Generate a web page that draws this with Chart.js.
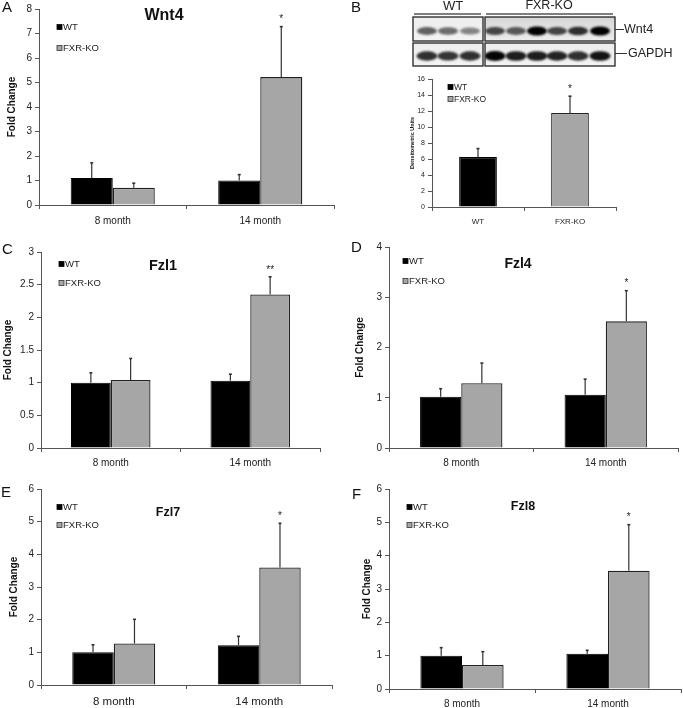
<!DOCTYPE html>
<html>
<head>
<meta charset="utf-8">
<script src="https://cdn.jsdelivr.net/npm/chart.js@4.4.1/dist/chart.umd.min.js"></script>
<style>
  body { margin: 0; background: #fff; width: 683px; height: 708px; position: relative; overflow: hidden; }
  canvas { position: absolute; }
</style>
</head>
<body>
<script>
// ---- data ----
const months = ["8 month", "14 month"];
const groups = ["WT", "FXR-KO"];

const wnt4WT = [1.1, 1.0];
const wnt4WTErr = [0.62, 0.24];
const wnt4KO = [0.7, 5.22];
const wnt4KOErr = [0.19, 2.06];

const densValues = [6.25, 11.75];
const densErr = [1.05, 2.1];

const fzl1WT = [1.0, 1.03];
const fzl1WTErr = [0.15, 0.1];
const fzl1KO = [1.04, 2.35];
const fzl1KOErr = [0.33, 0.27];

const fzl4WT = [1.02, 1.06];
const fzl4WTErr = [0.16, 0.31];
const fzl4KO = [1.29, 2.52];
const fzl4KOErr = [0.4, 0.61];

const fzl7WT = [1.0, 1.22];
const fzl7WTErr = [0.23, 0.27];
const fzl7KO = [1.27, 3.6];
const fzl7KOErr = [0.74, 1.35];

const fzl8WT = [1.0, 1.06];
const fzl8WTErr = [0.24, 0.1];
const fzl8KO = [0.72, 3.55];
const fzl8KOErr = [0.4, 1.38];

// western blot band strength, lanes WT x3 then FXR-KO x6
const wnt4Bands = [0.6, 0.55, 0.45, 0.7, 0.62, 1.0, 0.7, 0.8, 1.0];
const gapdhBands = [0.8, 0.78, 0.8, 0.98, 0.88, 0.88, 0.85, 0.8, 0.92];

const BLACK = "#000";
const GREY = "#a6a6a6";
const FONT = "'Liberation Sans', Arial, sans-serif";

Chart.defaults.font.family = FONT;

function pairSets(wt, wtErr, ko, koErr) {
  return [
    { label: "WT", data: wt, err: wtErr, backgroundColor: BLACK, borderColor: BLACK, borderWidth: 1,
      categoryPercentage: 0.57, barPercentage: 1 },
    { label: "FXR-KO", data: ko, err: koErr, backgroundColor: GREY, borderColor: "#222", borderWidth: 1.3,
      categoryPercentage: 0.57, barPercentage: 1 }
  ];
}

function deco(cfg) {
  return {
    id: "deco" + cfg.letter,
    beforeDraw(chart) {
      if (!cfg.blot) return;
      const ctx = chart.ctx;
      ctx.save();
      ctx.translate(-cfg.box[0], -cfg.box[1]);
      cfg.blot(ctx);
      ctx.restore();
    },
    afterDatasetsDraw(chart) {
      const ctx = chart.ctx, y = chart.scales.y;
      ctx.save();
      // error bars (upper half only, as in the figure)
      chart.data.datasets.forEach((ds, i) => {
        chart.getDatasetMeta(i).data.forEach((bar, j) => {
          const top = y.getPixelForValue(ds.data[j] + ds.err[j]);
          ctx.strokeStyle = "#333";
          ctx.lineWidth = 1.2;
          ctx.beginPath();
          ctx.moveTo(bar.x, bar.y);
          ctx.lineTo(bar.x, top);
          ctx.stroke();
          ctx.lineWidth = 1.6;
          ctx.beginPath();
          ctx.moveTo(bar.x - 1.5, top);
          ctx.lineTo(bar.x + 1.5, top);
          ctx.stroke();
        });
      });
      // significance stars
      (cfg.stars || []).forEach(s => {
        const ds = chart.data.datasets[s.ds];
        const bar = chart.getDatasetMeta(s.ds).data[s.i];
        const top = y.getPixelForValue(ds.data[s.i] + ds.err[s.i]);
        ctx.fillStyle = "#222";
        ctx.font = "10px " + FONT;
        ctx.textAlign = "center";
        ctx.textBaseline = "middle";
        ctx.fillText(s.text, bar.x, top - 7);
      });
      ctx.restore();
    },
    afterDraw(chart) {
      const ctx = chart.ctx;
      ctx.save();
      ctx.translate(-cfg.box[0], -cfg.box[1]);
      // panel letter
      ctx.fillStyle = "#111";
      ctx.font = "15px " + FONT;
      ctx.textAlign = "left";
      ctx.textBaseline = "top";
      ctx.fillText(cfg.letter, cfg.letterPos[0], cfg.letterPos[1]);
      // title
      if (cfg.title) {
        ctx.font = "bold " + cfg.title.size + "px " + FONT;
        ctx.textAlign = "center";
        ctx.textBaseline = "middle";
        ctx.fillText(cfg.title.text, cfg.title.x, cfg.title.y);
      }
      // legend
      const lg = cfg.legend;
      [[groups[0], BLACK, BLACK], [groups[1], GREY, "#333"]].forEach((it, k) => {
        const cy = k === 0 ? lg.y1 : lg.y2;
        ctx.fillStyle = it[1];
        ctx.fillRect(lg.x, cy - 2.5, 5, 5);
        ctx.strokeStyle = it[2];
        ctx.lineWidth = 0.8;
        ctx.strokeRect(lg.x, cy - 2.5, 5, 5);
        ctx.fillStyle = "#222";
        ctx.font = lg.size + "px " + FONT;
        ctx.textAlign = "left";
        ctx.textBaseline = "middle";
        ctx.fillText(it[0], lg.x + 6, cy + 0.5);
      });
      ctx.restore();
    }
  };
}

function makePanel(cfg) {
  const [bx, by, bw, bh] = cfg.box;
  const [al, at, ar, ab] = cfg.area;
  const c = document.createElement("canvas");
  c.width = bw; c.height = bh;
  c.style.left = bx + "px"; c.style.top = by + "px";
  document.body.appendChild(c);
  return new Chart(c, {
    type: "bar",
    data: { labels: cfg.labels, datasets: cfg.datasets },
    options: {
      responsive: false,
      animation: false,
      layout: { padding: { left: 0, top: at - by, right: bx + bw - ar, bottom: 0 } },
      plugins: { legend: { display: false }, tooltip: { enabled: false } },
      scales: {
        x: {
          offset: true,
          grid: { offset: true, drawOnChartArea: false, color: "#555", tickLength: 4 },
          border: { color: "#555", width: 1 },
          ticks: { color: "#222", font: { size: cfg.xFont }, padding: cfg.xPad },
          afterFit: s => { s.height = by + bh - ab; }
        },
        y: {
          min: 0, max: cfg.max,
          ticks: { stepSize: cfg.step, color: "#222", font: { size: cfg.yFont }, padding: 3,
                   callback: v => String(+v.toFixed(2)) },
          grid: { drawOnChartArea: false, color: "#555", tickLength: 4 },
          border: { color: "#555", width: 1 },
          title: { display: true, text: cfg.yTitle, color: "#111",
                   font: { size: cfg.yTitleSize, weight: "bold" },
                   padding: { top: cfg.yTitlePad, bottom: 0 } },
          afterFit: s => { s.width = al - bx; }
        }
      }
    },
    plugins: [deco(cfg)]
  });
}

function drawBlot(ctx) {
  ctx.fillStyle = "#222";
  ctx.textAlign = "center";
  ctx.textBaseline = "middle";
  ctx.font = "13px " + FONT;
  ctx.fillText(groups[0], 453, 6);
  ctx.font = "12.5px " + FONT;
  ctx.fillText(groups[1], 549, 6);
  ctx.strokeStyle = "#555";
  ctx.lineWidth = 1.5;
  ctx.beginPath();
  ctx.moveTo(414, 14); ctx.lineTo(481, 14);
  ctx.moveTo(486, 14); ctx.lineTo(613, 14);
  ctx.stroke();

  const lanes = [427, 448, 470, 495, 516, 537, 557, 578, 600];
  const boxes = [[413, 483], [485, 615]];
  const rows = [
    { y0: 17, y1: 41, cy: 31, bands: wnt4Bands, rx: 10, ry: 2.8 },
    { y0: 43, y1: 66, cy: 56, bands: gapdhBands, rx: 10.5, ry: 3.2 }
  ];
  rows.forEach((r, ri) => {
    boxes.forEach((b, bi) => {
      ctx.save();
      ctx.beginPath();
      ctx.rect(b[0], r.y0, b[1] - b[0], r.y1 - r.y0);
      ctx.clip();
      const g = ctx.createLinearGradient(0, r.y0, 0, r.y1);
      if (ri === 0 && bi === 1) {
        g.addColorStop(0, "#d6d6d6"); g.addColorStop(1, "#ececec");
      } else {
        g.addColorStop(0, "#eeeeee"); g.addColorStop(1, "#f3f3f3");
      }
      ctx.fillStyle = g;
      ctx.fillRect(b[0], r.y0, b[1] - b[0], r.y1 - r.y0);
      ctx.filter = "blur(1.2px)";
      r.bands.forEach((v, k) => {
        const x = lanes[k];
        if (x < b[0] || x > b[1]) return;
        ctx.fillStyle = "rgba(0,0,0," + v + ")";
        ctx.beginPath();
        ctx.ellipse(x, r.cy, r.rx, r.ry + v * 1.8, 0, 0, Math.PI * 2);
        ctx.fill();
      });
      ctx.filter = "none";
      ctx.restore();
      ctx.strokeStyle = "#222";
      ctx.lineWidth = 1.3;
      ctx.strokeRect(b[0], r.y0, b[1] - b[0], r.y1 - r.y0);
    });
  });
  ctx.strokeStyle = "#333";
  ctx.lineWidth = 1;
  ctx.beginPath();
  ctx.moveTo(615, 29.5); ctx.lineTo(624, 29.5);
  ctx.moveTo(615, 53.5); ctx.lineTo(627, 53.5);
  ctx.stroke();
  ctx.fillStyle = "#222";
  ctx.textAlign = "left";
  ctx.font = "12.5px " + FONT;
  ctx.fillText("Wnt4", 624, 29.5);
  ctx.fillText("GAPDH", 628, 53.5);
}

// A - Wnt4
makePanel({
  letter: "A", letterPos: [2, 0], box: [0, 0, 345, 235], area: [39, 7, 334, 205],
  labels: months, datasets: pairSets(wnt4WT, wnt4WTErr, wnt4KO, wnt4KOErr),
  max: 8, step: 1, xFont: 10, xPad: 6, yFont: 10,
  yTitle: "Fold Change", yTitleSize: 10, yTitlePad: 6,
  title: { text: "Wnt4", x: 164, y: 16, size: 16 },
  legend: { x: 57, y1: 27, y2: 48, size: 9.5 },
  stars: [{ ds: 1, i: 1, text: "*" }]
});

// B - densitometry with blot
makePanel({
  letter: "B", letterPos: [351, 0], box: [345, 0, 338, 235], area: [432, 79, 616, 207],
  labels: groups,
  datasets: [{ label: "Wnt4", data: densValues, err: densErr,
               backgroundColor: [BLACK, GREY], borderColor: [BLACK, "#222"], borderWidth: 1.2,
               categoryPercentage: 0.41, barPercentage: 1 }],
  max: 16, step: 2, xFont: 8, xPad: 6, yFont: 7,
  yTitle: "Densitometric Units", yTitleSize: 5.5, yTitlePad: 64,
  legend: { x: 448, y1: 87, y2: 99, size: 8.5 },
  stars: [{ ds: 0, i: 1, text: "*" }],
  blot: drawBlot
});

// C - Fzl1
makePanel({
  letter: "C", letterPos: [2, 242], box: [0, 235, 345, 235], area: [41, 252, 320, 448],
  labels: months, datasets: pairSets(fzl1WT, fzl1WTErr, fzl1KO, fzl1KOErr),
  max: 3, step: 0.5, xFont: 10, xPad: 5, yFont: 10,
  yTitle: "Fold Change", yTitleSize: 10, yTitlePad: 2,
  title: { text: "Fzl1", x: 163, y: 266, size: 14.5 },
  legend: { x: 59, y1: 264, y2: 283, size: 9.5 },
  stars: [{ ds: 1, i: 1, text: "**" }]
});

// D - Fzl4
makePanel({
  letter: "D", letterPos: [351, 240], box: [345, 235, 338, 235], area: [389, 247, 678, 448],
  labels: months, datasets: pairSets(fzl4WT, fzl4WTErr, fzl4KO, fzl4KOErr),
  max: 4, step: 1, xFont: 10, xPad: 5, yFont: 10,
  yTitle: "Fold Change", yTitleSize: 10, yTitlePad: 9,
  title: { text: "Fzl4", x: 518, y: 264, size: 14 },
  legend: { x: 403, y1: 261, y2: 281, size: 9.5 },
  stars: [{ ds: 1, i: 1, text: "*" }]
});

// E - Fzl7
makePanel({
  letter: "E", letterPos: [1, 485], box: [0, 470, 345, 238], area: [41, 489, 332, 685],
  labels: months, datasets: pairSets(fzl7WT, fzl7WTErr, fzl7KO, fzl7KOErr),
  max: 6, step: 1, xFont: 11.5, xPad: 6, yFont: 10,
  yTitle: "Fold Change", yTitleSize: 10, yTitlePad: 8,
  title: { text: "Fzl7", x: 168, y: 513, size: 12.5 },
  legend: { x: 57, y1: 507, y2: 525, size: 9.5 },
  stars: [{ ds: 1, i: 1, text: "*" }]
});

// F - Fzl8
makePanel({
  letter: "F", letterPos: [352, 487], box: [345, 470, 338, 238], area: [389, 489, 681, 689],
  labels: months, datasets: pairSets(fzl8WT, fzl8WTErr, fzl8KO, fzl8KOErr),
  max: 6, step: 1, xFont: 10, xPad: 5, yFont: 10,
  yTitle: "Fold Change", yTitleSize: 10, yTitlePad: 16,
  title: { text: "Fzl8", x: 523, y: 507, size: 12.5 },
  legend: { x: 407, y1: 507, y2: 525, size: 9.5 },
  stars: [{ ds: 1, i: 1, text: "*" }]
});
</script>
</body>
</html>
